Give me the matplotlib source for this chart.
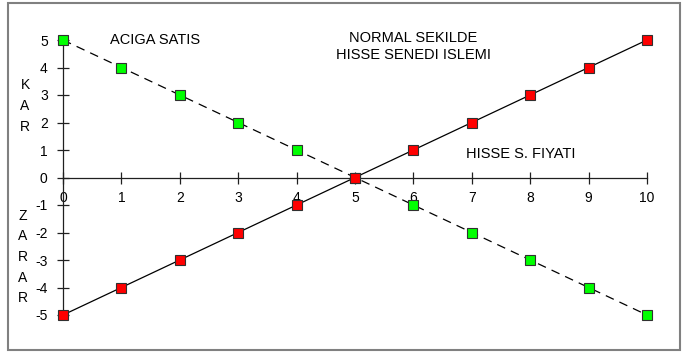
import matplotlib.pyplot as plt
from matplotlib.patches import Rectangle

plt.rcParams['font.family'] = ['Liberation Sans', 'DejaVu Sans']
plt.rcParams['axes.unicode_minus'] = False

price = [0, 1, 2, 3, 4, 5, 6, 7, 8, 9, 10]
normal = [-5, -4, -3, -2, -1, 0, 1, 2, 3, 4, 5]
short = [5, 4, 3, 2, 1, 0, -1, -2, -3, -4, -5]
x_ticks = [0, 1, 2, 3, 4, 5, 6, 7, 8, 9, 10]
y_ticks = [-5, -4, -3, -2, -1, 0, 1, 2, 3, 4, 5]

fig = plt.figure(figsize=(6.82, 3.56), dpi=100)
ax = fig.add_axes([63 / 682, 1 - 315 / 356, 584 / 682, 275 / 356])

# outer frame
fig.patches.append(Rectangle((8 / 682, 6 / 356), 672 / 682, 347 / 356,
                             transform=fig.transFigure, fill=False,
                             edgecolor='#808080', linewidth=1.5))

ax.plot(price, short, color='black', linewidth=0.9, dashes=(7, 5),
        marker='s', markersize=6.5, markerfacecolor='#00ff00',
        markeredgecolor='#303030', markeredgewidth=0.8, clip_on=False, zorder=3)
ax.plot(price, normal, color='black', linewidth=0.9,
        marker='s', markersize=6.5, markerfacecolor='#ff0000',
        markeredgecolor='#303030', markeredgewidth=0.8, clip_on=False, zorder=4)

ax.set_xlim(0, 10)
ax.set_ylim(-5, 5)
ax.set_xticks(x_ticks)
ax.set_yticks(y_ticks)
ax.spines['top'].set_visible(False)
ax.spines['right'].set_visible(False)
ax.spines['bottom'].set_position(('data', 0))
for s in ('left', 'bottom'):
    ax.spines[s].set_linewidth(0.9)
    ax.spines[s].set_color('#202020')
ax.tick_params(axis='both', direction='inout', length=8, width=0.9,
               labelsize=10, color='#202020')
ax.tick_params(axis='x', pad=6)
ax.tick_params(axis='y', pad=7)
ax.patch.set_visible(False)

ax.text(1.58, 5.0, 'ACIGA SATIS', ha='center', va='center', fontsize=10.5)
ax.text(6.0, 4.76, 'NORMAL SEKILDE\nHISSE SENEDI ISLEMI', ha='center',
        va='center', fontsize=10.5, linespacing=1.25)
ax.text(7.83, 0.84, 'HISSE S. FIYATI', ha='center', va='center', fontsize=10.5)

fig.text(25 / 682, 1 - 106 / 356, 'K\nA\nR', ha='center', va='center',
         fontsize=10, linespacing=1.6)
fig.text(23 / 682, 1 - 257 / 356, 'Z\nA\nR\nA\nR', ha='center', va='center',
         fontsize=10, linespacing=1.6)

fig.savefig('out.png', dpi=100)
